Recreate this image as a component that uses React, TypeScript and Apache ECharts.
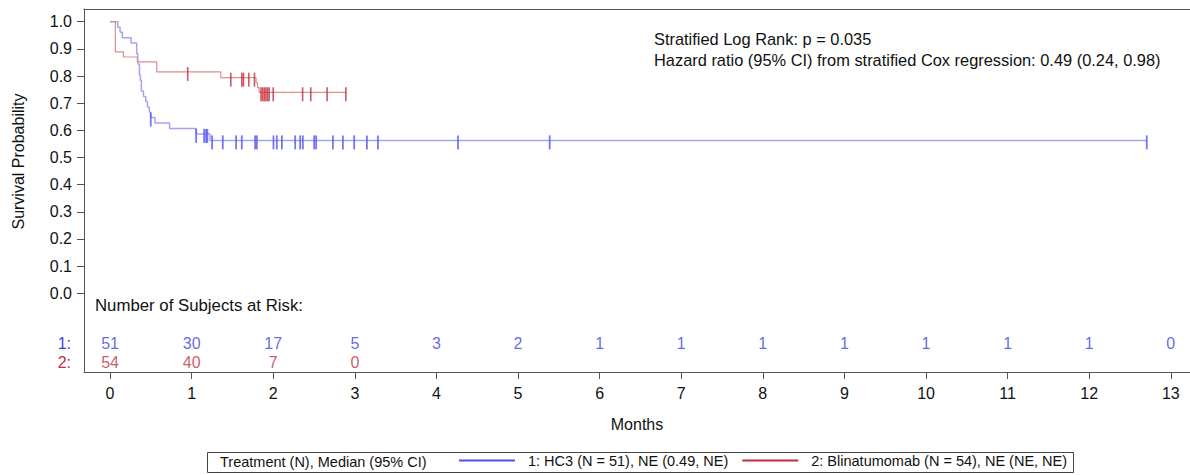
import React, { useEffect, useRef } from "react";
import * as echarts from "echarts";

// ---- Data ----
const blueTimes = [0, 0.094, 0.123, 0.151, 0.258, 0.327, 0.339, 0.347, 0.36, 0.372, 0.384, 0.409, 0.438, 0.458, 0.482, 0.499, 0.55, 0.73, 1.055, 1.226, 12.705];
const blueSurv = [1, 0.98, 0.961, 0.941, 0.922, 0.882, 0.863, 0.843, 0.804, 0.784, 0.745, 0.725, 0.706, 0.686, 0.667, 0.647, 0.627, 0.607, 0.587, 0.563, 0.563];
const blueCensor = [0.499, 1.055, 1.153, 1.177, 1.193, 1.251, 1.382, 1.545, 1.615, 1.778, 1.799, 2.003, 2.044, 2.106, 2.269, 2.33, 2.363, 2.502, 2.526, 2.731, 2.854, 2.992, 3.148, 3.283, 4.264, 5.388, 12.705];

const redTimes = [0, 0.065, 0.163, 0.335, 0.572, 1.357, 1.79, 1.807, 1.827, 2.89];
const redSurv = [1, 0.889, 0.87, 0.852, 0.815, 0.794, 0.775, 0.757, 0.74, 0.74];
const redCensor = [0.952, 1.48, 1.615, 1.635, 1.7, 1.77, 1.85, 1.87, 1.89, 1.91, 1.93, 1.95, 2.0, 2.36, 2.46, 2.66, 2.89];

const riskTimesBlue = [0, 1, 2, 3, 4, 5, 6, 7, 8, 9, 10, 11, 12, 13];
const riskBlue = [51, 30, 17, 5, 3, 2, 1, 1, 1, 1, 1, 1, 1, 0];
const riskTimesRed = [0, 1, 2, 3];
const riskRed = [54, 40, 7, 0];

const xTicks = [0, 1, 2, 3, 4, 5, 6, 7, 8, 9, 10, 11, 12, 13];
const yTicks = [0, 0.1, 0.2, 0.3, 0.4, 0.5, 0.6, 0.7, 0.8, 0.9, 1.0];
const riskRows = ["2:", "1:", ""];

const blueName = "1: HC3 (N = 51), NE (0.49, NE)";
const redName = "2: Blinatumomab (N = 54), NE (NE, NE)";
const legendTitle = "Treatment (N), Median (95% CI)";
const statLine1 = "Stratified Log Rank: p = 0.035";
const statLine2 = "Hazard ratio (95% CI) from stratified Cox regression: 0.49 (0.24, 0.98)";
const riskTitle = "Number of Subjects at Risk:";

const FONT = "'Liberation Sans', Arial, Helvetica, sans-serif";
const BLUE_LINE = "#a4a4f4";
const RED_LINE = "#dc8e90";
const BLUE_MARK = "#5555ee";
const RED_MARK = "#c42c3c";
const BLUE_TXT = "#3f3fe0";
const RED_TXT = "#c0303c";
const AXIS = "#555";

const X_MIN = -0.319;
const X_MAX = 13.235;
const GRID_W = 1106;

function survAt(times: number[], surv: number[], t: number) {
  let s = surv[0];
  for (let i = 0; i < times.length; i++) if (times[i] <= t + 1e-9) s = surv[i];
  return s;
}

export default function App() {
  const ref = useRef<HTMLDivElement>(null);
  useEffect(() => {
    if (!ref.current) return;
    const chart = echarts.init(ref.current, undefined, { renderer: "svg" });
    const blueLine = blueTimes.map((t, i) => [t, blueSurv[i]]);
    const redLine = redTimes.map((t, i) => [t, redSurv[i]]);
    const blueCens = blueCensor.map((t) => [t, survAt(blueTimes, blueSurv, t)]);
    const redCens = redCensor.map((t) => [t, survAt(redTimes, redSurv, t)]);
    const riskB = riskTimesBlue.map((t, i) => [t, "1:", riskBlue[i]]);
    const riskR = riskTimesRed.map((t, i) => [t, "2:", riskRed[i]]);

    const option: any = {
      animation: false,
      backgroundColor: "#fff",
      textStyle: { fontFamily: FONT },
      grid: [
        { left: 84, top: 9, width: GRID_W, height: 305 },
        { left: 84, top: 314, width: GRID_W, height: 58 },
      ],
      xAxis: [
        { type: "value", gridIndex: 0, min: X_MIN, max: X_MAX, show: false },
        {
          type: "value", gridIndex: 0, position: "top", min: X_MIN, max: X_MAX,
          axisLine: { show: true, onZero: false, lineStyle: { color: AXIS, width: 1 } },
          axisTick: { show: false }, axisLabel: { show: false }, splitLine: { show: false },
        },
        {
          type: "value", gridIndex: 1, min: X_MIN, max: X_MAX,
          name: "Months", nameLocation: "middle", nameGap: 44,
          nameTextStyle: { fontSize: 16, color: "#111", fontFamily: FONT },
          axisLine: { show: true, onZero: false, lineStyle: { color: AXIS, width: 1 } },
          axisTick: { show: true, length: 7, lineStyle: { color: AXIS }, customValues: xTicks },
          axisLabel: { fontSize: 16, color: "#111", margin: 13, customValues: xTicks, formatter: (v: number) => String(v) },
          splitLine: { show: false },
        },
      ],
      yAxis: [
        {
          type: "value", gridIndex: 0, min: -0.0762, max: 1.0468,
          name: "Survival Probability", nameLocation: "middle", nameGap: 58,
          nameTextStyle: { fontSize: 16, color: "#111", fontFamily: FONT },
          axisLine: { show: true, onZero: false, lineStyle: { color: AXIS, width: 1 } },
          axisTick: { show: true, length: 7, lineStyle: { color: AXIS }, customValues: yTicks },
          axisLabel: { fontSize: 16, color: "#111", margin: 12, customValues: yTicks, formatter: (v: number) => v.toFixed(1) },
          splitLine: { show: false },
        },
        {
          type: "category", gridIndex: 1, data: riskRows,
          axisLine: { show: true, onZero: false, lineStyle: { color: AXIS, width: 1 } },
          axisTick: { show: false },
          axisLabel: {
            margin: 13, fontSize: 16, interval: 0,
            formatter: (v: string) => (v === "1:" ? "{b|1:}" : v === "2:" ? "{r|2:}" : ""),
            rich: { b: { color: BLUE_TXT, fontSize: 16 }, r: { color: RED_TXT, fontSize: 16 } },
          },
          splitLine: { show: false },
        },
      ],
      legend: {
        left: 459, top: 453, padding: 0, icon: "rect", itemWidth: 56, itemHeight: 2, itemGap: 14,
        selectedMode: false,
        textStyle: { fontSize: 14.5, color: "#111", fontFamily: FONT, padding: [0, 0, 0, 8] },
        data: [
          { name: blueName, itemStyle: { color: "#4f4fe6" } },
          { name: redName, itemStyle: { color: "#c03040" } },
        ],
      },
      graphic: [
        { type: "text", left: 654, top: 31, style: { text: statLine1, fontSize: 16.4, fontFamily: FONT, fill: "#111" } },
        { type: "text", left: 654, top: 52, style: { text: statLine2, fontSize: 16.4, fontFamily: FONT, fill: "#111" } },
        { type: "text", left: 95, top: 297, style: { text: riskTitle, fontSize: 16.8, fontFamily: FONT, fill: "#111" } },
        { type: "rect", shape: { x: 207.5, y: 452.5, width: 866, height: 20 }, style: { fill: "none", stroke: "#444", lineWidth: 1 } },
        { type: "text", left: 220, top: 454, style: { text: legendTitle, fontSize: 14.5, fontFamily: FONT, fill: "#111" } },
      ],
      series: [
        {
          name: blueName, type: "line", xAxisIndex: 0, yAxisIndex: 0, step: "end", data: blueLine,
          showSymbol: false, symbol: "none", lineStyle: { color: BLUE_LINE, width: 1.5 }, itemStyle: { color: BLUE_LINE }, z: 2,
        },
        {
          name: redName, type: "line", xAxisIndex: 0, yAxisIndex: 0, step: "end", data: redLine,
          showSymbol: false, symbol: "none", lineStyle: { color: RED_LINE, width: 1.2 }, itemStyle: { color: RED_LINE }, z: 3,
        },
        {
          name: "HC3 censored", type: "scatter", xAxisIndex: 0, yAxisIndex: 0, data: blueCens,
          symbol: "rect", symbolSize: [1.8, 14], symbolOffset: [0, 2], itemStyle: { color: BLUE_MARK }, z: 4,
        },
        {
          name: "Blinatumomab censored", type: "scatter", xAxisIndex: 0, yAxisIndex: 0, data: redCens,
          symbol: "rect", symbolSize: [1.6, 14], symbolOffset: [0, 2], itemStyle: { color: RED_MARK }, z: 5,
        },
        {
          name: "At risk 1", type: "scatter", xAxisIndex: 2, yAxisIndex: 1, data: riskB,
          symbolSize: 1, itemStyle: { color: "rgba(0,0,0,0)" },
          label: { show: true, position: "inside", formatter: (p: any) => String(p.value[2]), color: BLUE_TXT, fontSize: 16, fontFamily: FONT },
        },
        {
          name: "At risk 2", type: "scatter", xAxisIndex: 2, yAxisIndex: 1, data: riskR,
          symbolSize: 1, itemStyle: { color: "rgba(0,0,0,0)" },
          label: { show: true, position: "inside", formatter: (p: any) => String(p.value[2]), color: RED_TXT, fontSize: 16, fontFamily: FONT },
        },
      ],
    };
    chart.setOption(option);
    return () => chart.dispose();
  }, []);
  return <div ref={ref} style={{ position: "absolute", left: 0, top: 0, width: 1190, height: 475 }} />;
}
